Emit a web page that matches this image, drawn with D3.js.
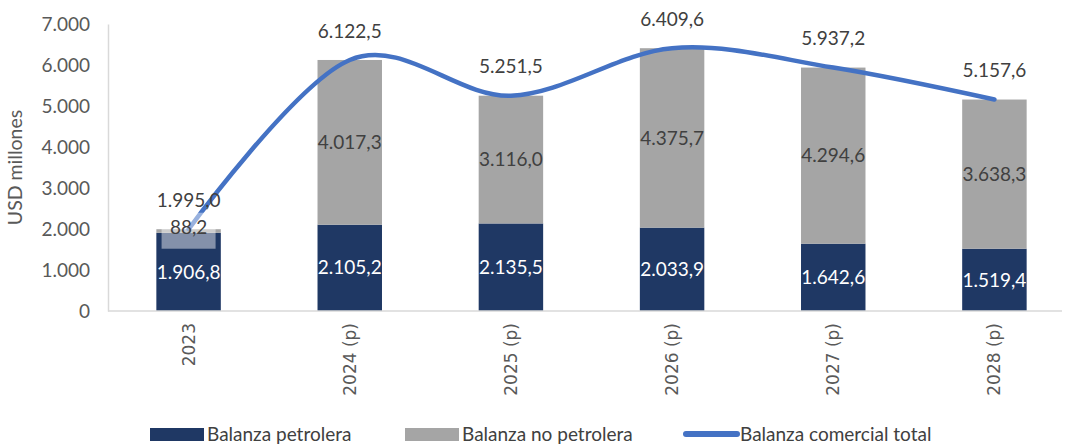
<!DOCTYPE html>
<html>
<head>
<meta charset="utf-8">
<script src="https://cdn.jsdelivr.net/npm/d3@7"></script>
<style>
  body { margin: 0; background: #fff; }
  text { font-family: Lato, "Open Sans", sans-serif; }
</style>
</head>
<body>
<svg width="1067" height="446"></svg>
<script>
var years = ["2023", "2024 (p)", "2025 (p)", "2026 (p)", "2027 (p)", "2028 (p)"];
var petrolera = [1906.8, 2105.2, 2135.5, 2033.9, 1642.6, 1519.4];
var noPetrolera = [88.2, 4017.3, 3116.0, 4375.7, 4294.6, 3638.3];
var total = [1995.0, 6122.5, 5251.5, 6409.6, 5937.2, 5157.6];
var yTicks = [0, 1000, 2000, 3000, 4000, 5000, 6000, 7000];

var svg = d3.select("svg"),
    plotLeft = 108, plotRight = 1075, plotTop = 24, plotBottom = 311;

var es = d3.formatLocale({ decimal: ",", thousands: ".", grouping: [3], currency: ["", ""] });
var fmtTick = es.format(",.0f"),
    fmtVal = es.format(",.1f");

var x = d3.scaleBand().domain(years).range([plotLeft, plotRight]).paddingInner(0.6).paddingOuter(0.3);
var y = d3.scaleLinear().domain([0, 7000]).range([plotBottom, plotTop]);

var colDark = "#1f3864", colGray = "#a5a5a5", colLine = "#4472c4";

// y axis
var yAxis = svg.append("g").attr("transform", "translate(" + plotLeft + ",0)")
    .call(d3.axisLeft(y).tickValues(yTicks).tickFormat(fmtTick).tickSize(0).tickPadding(18));
yAxis.select(".domain").attr("stroke", "#d9d9d9").attr("stroke-width", 1.5);
yAxis.selectAll("text").attr("font-size", 19).attr("fill", "#595959");

svg.append("text")
    .attr("transform", "translate(22," + (plotTop + plotBottom) / 2 + ") rotate(-90)")
    .attr("text-anchor", "middle")
    .attr("font-size", 19.5).attr("fill", "#595959")
    .text("USD millones");

// bars
var g = svg.append("g");
g.selectAll(".pet").data(years).enter().append("rect")
    .attr("x", function(d) { return x(d); })
    .attr("width", x.bandwidth())
    .attr("y", function(d, i) { return y(petrolera[i]); })
    .attr("height", function(d, i) { return y(0) - y(petrolera[i]); })
    .attr("fill", colDark);
g.selectAll(".nopet").data(years).enter().append("rect")
    .attr("x", function(d) { return x(d); })
    .attr("width", x.bandwidth())
    .attr("y", function(d, i) { return y(petrolera[i] + noPetrolera[i]); })
    .attr("height", function(d, i) { return y(petrolera[i]) - y(petrolera[i] + noPetrolera[i]); })
    .attr("fill", colGray);

// x axis
var xAxis = svg.append("g").attr("transform", "translate(0," + plotBottom + ")")
    .call(d3.axisBottom(x).tickSize(0).tickPadding(0));
xAxis.select(".domain").attr("stroke", "#d9d9d9").attr("stroke-width", 1.5).attr("d", "M" + plotLeft + ",0H1062");
xAxis.selectAll("text")
    .style("font-family", "'DejaVu Sans', sans-serif")
    .attr("font-size", 17).attr("fill", "#595959")
    .attr("transform", "rotate(-90)")
    .attr("text-anchor", "end")
    .attr("x", -12).attr("y", 0).attr("dy", "0.35em");

// total line
var cx = function(i) { return x(years[i]) + x.bandwidth() / 2; };
var line = d3.line()
    .x(function(d, i) { return cx(i); })
    .y(function(d) { return y(d); })
    .curve(d3.curveCatmullRom.alpha(0));
svg.append("path").datum(total)
    .attr("d", line)
    .attr("fill", "none")
    .attr("stroke", colLine)
    .attr("stroke-width", 4.5)
    .attr("stroke-linecap", "round");

// labels
var lab = svg.append("g").attr("font-size", 19).attr("text-anchor", "middle");
years.forEach(function(yr, i) {
    var c = cx(i);
    lab.append("text").attr("x", c).attr("y", y(petrolera[i] / 2)).attr("dy", "0.35em")
        .attr("fill", "#fff").text(fmtVal(petrolera[i]));
    var mid = y(petrolera[i] + noPetrolera[i] / 2);
    if (i === 0) {
        // small segment: label sits in a light box
        mid = y(petrolera[i] + 100) - 1;
        lab.append("rect").attr("x", c - 27).attr("y", mid - 15).attr("width", 54).attr("height", 36)
            .attr("fill", "#fff").attr("opacity", 0.45);
    }
    lab.append("text").attr("x", c).attr("y", mid).attr("dy", "0.35em")
        .attr("fill", "#404040").text(fmtVal(noPetrolera[i]));
    lab.append("text").attr("x", c).attr("y", y(total[i]) - 29).attr("dy", "0.35em")
        .attr("fill", "#404040").text(fmtVal(total[i]));
});

// legend
var leg = svg.append("g").attr("font-size", 19).attr("fill", "#404040");
var items = [
    { name: "Balanza petrolera", x: 150, type: "rect", color: colDark },
    { name: "Balanza no petrolera", x: 405, type: "rect", color: colGray },
    { name: "Balanza comercial total", x: 683, type: "line", color: colLine }
];
items.forEach(function(it) {
    if (it.type === "rect") {
        leg.append("rect").attr("x", it.x).attr("y", 428).attr("width", 54).attr("height", 13).attr("fill", it.color);
    } else {
        leg.append("line").attr("x1", it.x + 3).attr("x2", it.x + 54).attr("y1", 434).attr("y2", 434)
            .attr("stroke", it.color).attr("stroke-width", 6).attr("stroke-linecap", "round");
    }
    leg.append("text").attr("x", it.x + 57).attr("y", 434).attr("dy", "0.35em").text(it.name);
});
</script>
</body>
</html>
